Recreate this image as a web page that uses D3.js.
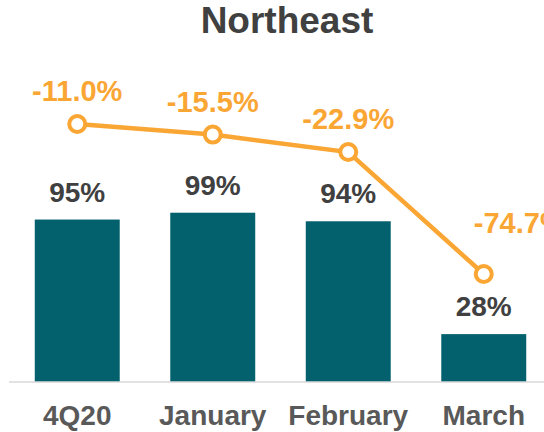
<!DOCTYPE html>
<html>
<head>
<meta charset="utf-8">
<script src="https://cdn.jsdelivr.net/npm/d3@7"></script>
<style>
  body { margin: 0; background: #fff; }
  text { font-family: "Liberation Sans", Arial, sans-serif; font-weight: bold; }
</style>
</head>
<body>
<svg id="chart" width="544" height="432"></svg>
<script>
// Chart data
const categories = ["4Q20", "January", "February", "March"];
const barValues = [95, 99, 94, 28];
const lineValues = [-11.0, -15.5, -22.9, -74.7];
const title = "Northeast";

const svg = d3.select("#chart");
const barColor = "#03616E";
const lineColor = "#FAA634";

// Scales
const x = d3.scaleBand()
  .domain(categories)
  .range([9.5, 551.5])
  .paddingInner(0.373)
  .paddingOuter(0.1865);
const yBar = d3.scaleLinear().domain([0, 100]).range([382, 211]);
const yLine = d3.scaleLinear().domain([-100, 0]).range([333.6, 98.1]);

// Title
svg.append("text")
  .attr("x", 287).attr("y", 33)
  .attr("text-anchor", "middle")
  .attr("font-size", 37)
  .attr("fill", "#404040")
  .text(title);

// Bars
svg.selectAll("rect.bar").data(barValues)
  .join("rect")
  .attr("class", "bar")
  .attr("x", (d, i) => x(categories[i]))
  .attr("width", x.bandwidth())
  .attr("y", d => yBar(d))
  .attr("height", d => yBar(0) - yBar(d))
  .attr("fill", barColor);

// Bar labels
svg.selectAll("text.barlabel").data(barValues)
  .join("text")
  .attr("class", "barlabel")
  .attr("x", (d, i) => x(categories[i]) + x.bandwidth() / 2)
  .attr("y", d => yBar(d) - 18)
  .attr("text-anchor", "middle")
  .attr("font-size", 28)
  .attr("fill", "#404040")
  .text(d => d + "%");

// Baseline axis
const xAxis = d3.axisBottom(x).tickSize(0).tickPadding(0);
const axisG = svg.append("g")
  .attr("transform", "translate(0," + yBar(0) + ")")
  .call(xAxis);
axisG.select(".domain").remove();
axisG.append("line")
  .attr("x1", 9).attr("x2", 544)
  .attr("stroke", "#D9D9D9")
  .attr("stroke-width", 1.5);
axisG.selectAll(".tick text")
  .attr("y", 43)
  .attr("dy", 0)
  .attr("font-size", 28)
  .attr("font-family", "Liberation Sans, Arial, sans-serif")
  .attr("font-weight", "bold")
  .attr("fill", "#595959");

// Line
const cx = (d, i) => x(categories[i]) + x.bandwidth() / 2;
const line = d3.line()
  .x(cx)
  .y(d => yLine(d));

svg.append("path")
  .datum(lineValues)
  .attr("d", line)
  .attr("fill", "none")
  .attr("stroke", lineColor)
  .attr("stroke-width", 4.5);

svg.selectAll("circle.pt").data(lineValues)
  .join("circle")
  .attr("class", "pt")
  .attr("cx", cx)
  .attr("cy", d => yLine(d))
  .attr("r", 8)
  .attr("fill", "#fff")
  .attr("stroke", lineColor)
  .attr("stroke-width", 4);

// Line labels (last one sits up and to the right of its marker)
svg.selectAll("text.linelabel").data(lineValues)
  .join("text")
  .attr("class", "linelabel")
  .attr("x", (d, i) => cx(d, i) + (i === lineValues.length - 1 ? 36 : 0))
  .attr("y", (d, i) => yLine(d) - (i === lineValues.length - 1 ? 41 : 23))
  .attr("text-anchor", "middle")
  .attr("font-size", 29)
  .attr("fill", lineColor)
  .text(d => d.toFixed(1) + "%");
</script>
</body>
</html>
